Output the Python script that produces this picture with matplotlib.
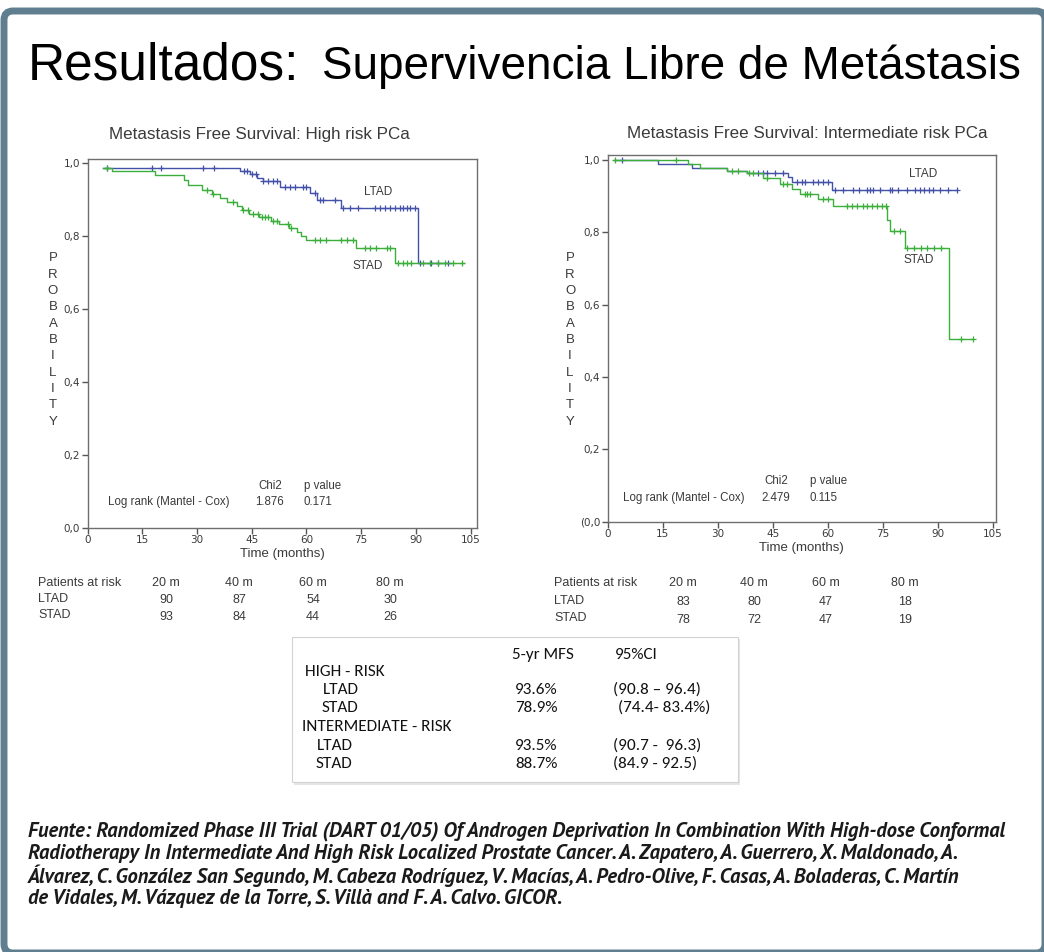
import os
import numpy as np
import matplotlib
matplotlib.use("Agg")
import matplotlib.pyplot as plt
from matplotlib import font_manager
from matplotlib.font_manager import FontProperties
from matplotlib.patches import FancyBboxPatch, Rectangle

# ---------------- data ----------------
# High risk PCa: Kaplan-Meier steps (time in months, survival) and censor times
hr_ltad_t = [4.3, 41.8, 44.5, 46.5, 48.0, 52.7, 61.0, 62.8, 69.6, 90.7, 99.3]
hr_ltad_s = [0.988, 0.980, 0.970, 0.960, 0.951, 0.936, 0.919, 0.899, 0.878, 0.727, 0.727]
hr_ltad_cens = [5.2, 17.5, 20.0, 31.7, 34.6, 42.9, 43.8, 45.0, 46.3, 48.2, 49.5, 50.9, 52.0,
                54.1, 55.5, 56.8, 59.1, 60.0, 62.3, 63.7, 64.6, 67.8, 70.1, 71.9, 74.2, 78.8,
                80.2, 81.5, 82.9, 84.3, 85.6, 86.5, 87.5, 88.4, 89.8, 91.1, 94.3, 96.1, 98.9]

hr_stad_t = [4.3, 6.6, 18.5, 26.4, 27.6, 31.3, 34.1, 36.4, 38.2, 41.0, 42.4, 44.2, 47.0,
             50.2, 52.5, 55.2, 57.5, 58.4, 59.8, 73.5, 84.4, 103.1]
hr_stad_s = [0.988, 0.980, 0.968, 0.953, 0.941, 0.927, 0.917, 0.906, 0.894, 0.882, 0.871,
             0.862, 0.853, 0.843, 0.834, 0.823, 0.811, 0.802, 0.791, 0.769, 0.727, 0.727]
hr_stad_cens = [5.2, 32.6, 34.4, 39.9, 42.7, 44.1, 45.4, 46.8, 47.7, 48.6, 49.5, 50.9, 51.8,
                55.0, 55.9, 62.3, 63.7, 65.5, 69.6, 71.0, 72.9, 76.0, 77.4, 79.2, 82.0, 82.9,
                85.2, 86.6, 87.5, 88.8, 92.1, 93.9, 96.2, 98.0, 100.3, 102.6]

# Intermediate risk PCa
ir_ltad_t = [1.6, 13.8, 22.9, 32.4, 37.9, 49.3, 50.2, 61.1, 95.2]
ir_ltad_s = [1.0, 0.988, 0.979, 0.970, 0.965, 0.953, 0.939, 0.918, 0.918]
ir_ltad_cens = [3.8, 41.1, 42.4, 43.4, 45.6, 47.9, 51.5, 52.9, 53.8, 56.1, 57.4, 58.8, 60.2,
                62.0, 64.3, 67.0, 68.4, 70.6, 71.5, 72.4, 74.3, 77.0, 77.4, 79.3, 81.6, 83.9,
                85.3, 86.2, 87.5, 88.8, 90.6, 92.9, 95.2]

ir_stad_t = [1.6, 22.0, 25.2, 32.4, 37.9, 42.4, 47.0, 50.2, 52.4, 57.4, 61.5, 76.1, 77.0,
             81.0, 93.2, 99.7]
ir_stad_s = [1.0, 0.988, 0.979, 0.970, 0.965, 0.951, 0.935, 0.921, 0.907, 0.893, 0.872,
             0.834, 0.805, 0.758, 0.505, 0.505]
ir_stad_cens = [2.0, 18.6, 33.8, 35.6, 38.4, 39.7, 43.4, 47.9, 48.8, 53.8, 54.3, 55.2, 58.8,
                60.2, 65.2, 66.5, 68.0, 69.5, 70.6, 72.0, 73.5, 74.8, 76.0, 78.0, 79.6, 81.6,
                83.5, 85.5, 87.0, 89.0, 91.0, 96.3, 99.5]

# log-rank results
hr_chi2, hr_p = "1.876", "0.171"
ir_chi2, ir_p = "2.479", "0.115"

# patients at risk
risk_cols = ["20 m", "40 m", "60 m", "80 m"]
hr_ltad_risk = [90, 87, 54, 30]
hr_stad_risk = [93, 84, 44, 26]
ir_ltad_risk = [83, 80, 47, 18]
ir_stad_risk = [78, 72, 47, 19]

# 5-yr MFS table
tab_groups = ["HIGH - RISK", "INTERMEDIATE - RISK"]
tab_arms = ["LTAD", "STAD"]
tab_mfs = [["93.6%", "78.9%"], ["93.5%", "88.7%"]]
tab_ci = [["(90.8 \u2013 96.4)", "(74.4- 83.4%)"], ["(90.7 -  96.3)", "(84.9 - 92.5)"]]

footer_lines = [
    "Fuente: Randomized Phase III Trial (DART 01/05) Of Androgen Deprivation In Combination With High-dose Conformal",
    "Radiotherapy In Intermediate And High Risk Localized Prostate Cancer. A. Zapatero, A. Guerrero, X. Maldonado, A.",
    "\u00c1lvarez, C. Gonz\u00e1lez San Segundo, M. Cabeza Rodr\u00edguez, V. Mac\u00edas, A. Pedro-Olive, F. Casas, A. Boladeras, C. Mart\u00edn",
    "de Vidales, M. V\u00e1zquez de la Torre, S. Vill\u00e0 and F. A. Calvo. GICOR.",
]

# ---------------- styling ----------------
BORDER = "#5f7f91"
BLUE = "#4352a8"
GREEN = "#3cae3c"
TXT = "#3a3a3a"
W, H = 1044, 952


def have(name, weight="normal", style="normal"):
    try:
        path = font_manager.findfont(FontProperties(family=name, weight=weight, style=style),
                                     fallback_to_default=False)
    except ValueError:
        return False
    base = os.path.basename(path).lower()
    if weight == "bold" and "bold" not in base:
        return False
    if style == "italic" and "italic" not in base and "oblique" not in base:
        return False
    return True


def first_font(*names, weight="normal", style="normal"):
    for n in names:
        if have(n, weight, style):
            return n
    return "DejaVu Sans"


SANS = first_font("Liberation Sans", "Arimo")
FOOT = first_font("PT Sans", "Fira Sans", "Barlow", "Liberation Sans",
                  weight="bold", style="italic")
TABLE_FONT = first_font("Carlito", "Lato")

fig = plt.figure(figsize=(W / 100, H / 100), dpi=100)
renderer = fig.canvas.get_renderer()

# full-figure pixel axes for slide decoration
bg = fig.add_axes([0, 0, 1, 1])
bg.set_xlim(0, W)
bg.set_ylim(H, 0)
bg.axis("off")


def fit(txt, width_px, max_size=None):
    w = txt.get_window_extent(renderer).width
    size = txt.get_fontsize() * width_px / w
    if max_size is not None:
        size = min(size, max_size)
    txt.set_fontsize(size)
    return size


bg.add_patch(FancyBboxPatch((4, 11), 1041, 942, boxstyle="round,pad=0,rounding_size=9",
                            lw=5, ec=BORDER, fc="none"))

# slide title
bg.text(28, 80, "Resultados:", fontsize=37, family=SANS, color="black", va="baseline")
t = bg.text(322, 79, "Supervivencia Libre de Met\u00e1stasis", fontsize=28, family=SANS,
            color="black", va="baseline")
fit(t, 698)

# panel titles
t = bg.text(259, 134, "Metastasis Free Survival: High risk PCa", fontsize=11, family=SANS,
            color=TXT, ha="center", va="center")
ptfs = fit(t, 298)
bg.text(807, 134, "Metastasis Free Survival: Intermediate risk PCa", fontsize=ptfs,
        family=SANS, color=TXT, ha="center", va="center")


def step_at(ts, ss, x):
    i = np.searchsorted(ts, x, side="right") - 1
    return np.asarray(ss)[np.clip(i, 0, len(ss) - 1)]


def km_panel(rect, xmax, ymax, curves, labels, chi2, pval, stat_pos, zero_lbl):
    ax = fig.add_axes(rect)
    for ts, ss, cens, col in curves:
        ax.step(ts, ss, where="post", color=col, lw=1.0)
        ax.plot(cens, step_at(ts, ss, np.array(cens)), ls="none", marker="+",
                ms=4.5, mew=0.9, color=col)
    ax.set_xlim(0, xmax)
    ax.set_ylim(0, ymax)
    ax.set_xticks(np.arange(0, 106, 15))
    yt = np.arange(0, 1.01, 0.2)
    ax.set_yticks(yt)
    ylab = [f"{v:.1f}".replace(".", ",") for v in yt]
    ylab[0] = zero_lbl
    ax.set_yticklabels(ylab)
    for sp in ax.spines.values():
        sp.set_color("#6e6e6e")
        sp.set_linewidth(1.0)
    ax.tick_params(direction="out", length=4, width=1, color="#555555",
                   labelsize=7.5, labelcolor=TXT, pad=1.5)
    ax.set_xlabel("Time (months)", fontsize=9.5, color=TXT, family=SANS, labelpad=2)
    for lab, (lx, ly) in labels:
        ax.text(lx, ly, lab, fontsize=8.5, color=TXT, ha="center", va="center", family=SANS)
    (cx, px, lx, y1, y2) = stat_pos
    ax.text(cx, y1, "Chi2", fontsize=8.3, color=TXT, ha="center", va="center", family=SANS)
    ax.text(px, y1, "p value", fontsize=8.3, color=TXT, ha="center", va="center", family=SANS)
    ax.text(lx, y2, "Log rank (Mantel - Cox)", fontsize=8.3, color=TXT, ha="left",
            va="center", family=SANS)
    ax.text(cx, y2, chi2, fontsize=8.3, color=TXT, ha="center", va="center", family=SANS)
    ax.text(px - 1.5, y2, pval, fontsize=8.3, color=TXT, ha="center", va="center", family=SANS)
    return ax


km_panel([87.7 / W, 1 - 527.7 / H, 389 / W, (527.7 - 159) / H], 106.7, 1.012,
         [(hr_ltad_t, hr_ltad_s, hr_ltad_cens, BLUE), (hr_stad_t, hr_stad_s, hr_stad_cens, GREEN)],
         [("LTAD", (79.6, 0.921)), ("STAD", (76.9, 0.718))],
         hr_chi2, hr_p, (50.0, 64.5, 5.6, 0.114, 0.071), "0,0")

km_panel([607.7 / W, 1 - 521.7 / H, 388.3 / W, (521.7 - 155) / H], 105.9, 1.014,
         [(ir_ltad_t, ir_ltad_s, ir_ltad_cens, BLUE), (ir_stad_t, ir_stad_s, ir_stad_cens, GREEN)],
         [("LTAD", (86.0, 0.961)), ("STAD", (84.9, 0.7235))],
         ir_chi2, ir_p, (45.9, 60.3, 4.2, 0.113, 0.0655), "(0,0")

# stacked "PROBABILITY" axis labels
for xc in (53, 570):
    bg.text(xc, 340, "\n".join("PROBABILITY"), fontsize=9.5, family=SANS, color=TXT,
            ha="center", va="center", linespacing=1.48)

# patients at risk
for x0, cols, rows, yy in [
        (38, [166, 239, 313, 390], (hr_ltad_risk, hr_stad_risk), (583, 600, 617)),
        (554, [683, 754, 826, 905], (ir_ltad_risk, ir_stad_risk), (583, 602, 620))]:
    bg.text(x0, yy[0], "Patients at risk", fontsize=9, family=SANS, color=TXT, va="center")
    bg.text(x0, yy[1] - 1, "LTAD", fontsize=9, family=SANS, color=TXT, va="center")
    bg.text(x0, yy[2] - 2, "STAD", fontsize=9, family=SANS, color=TXT, va="center")
    for xc, head, a, b in zip(cols, risk_cols, rows[0], rows[1]):
        bg.text(xc, yy[0], head, fontsize=9, family=SANS, color=TXT, ha="center", va="center")
        bg.text(xc, yy[1], str(a), fontsize=9, family=SANS, color=TXT, ha="center", va="center")
        bg.text(xc, yy[2], str(b), fontsize=9, family=SANS, color=TXT, ha="center", va="center")

# 5-yr MFS table
bg.add_patch(Rectangle((294, 639), 446, 146, fc="#e6e6e6", ec="none"))
bg.add_patch(Rectangle((291.5, 637), 446, 145, fc="white", ec="#d2d2d2", lw=0.8))
probe = bg.text(302, 727, tab_groups[1], fontsize=10, family=TABLE_FONT, color="#111111",
                va="center")
tfs = fit(probe, 150)
probe.remove()
bg.text(512, 655, "5-yr MFS", fontsize=tfs, family=TABLE_FONT, color="#111111", va="center")
bg.text(615, 655, "95%CI", fontsize=tfs, family=TABLE_FONT, color="#111111", va="center")
for gi, (gy, gx, ax_x) in enumerate([(672, 305, 323), (727, 302, 317)]):
    bg.text(gx, gy, tab_groups[gi], fontsize=tfs, family=TABLE_FONT, color="#111111", va="center")
    for ai, arm in enumerate(tab_arms):
        yy = gy + 18 * (ai + 1) + (1 if gi else 0)
        bg.text(ax_x - (1 if ai else 0), yy, arm, fontsize=tfs, family=TABLE_FONT,
                color="#111111", va="center")
        bg.text(515, yy, tab_mfs[gi][ai], fontsize=tfs, family=TABLE_FONT, color="#111111",
                va="center")
        bg.text(613 + (5 if (gi == 0 and ai == 1) else 0), yy, tab_ci[gi][ai], fontsize=tfs,
                family=TABLE_FONT, color="#111111", va="center")

# source footer
fsize = None
for i, (line, yc) in enumerate(zip(footer_lines, [831, 853.5, 876, 898.5])):
    t = bg.text(28, yc, line, fontsize=11, family=FOOT, weight="bold", style="italic",
                color="#1a1a1a", va="center")
    if i < 3:
        fsize = fit(t, 996, max_size=14.8)
    else:
        t.set_fontsize(fsize)

fig.savefig("out.png", dpi=100)
